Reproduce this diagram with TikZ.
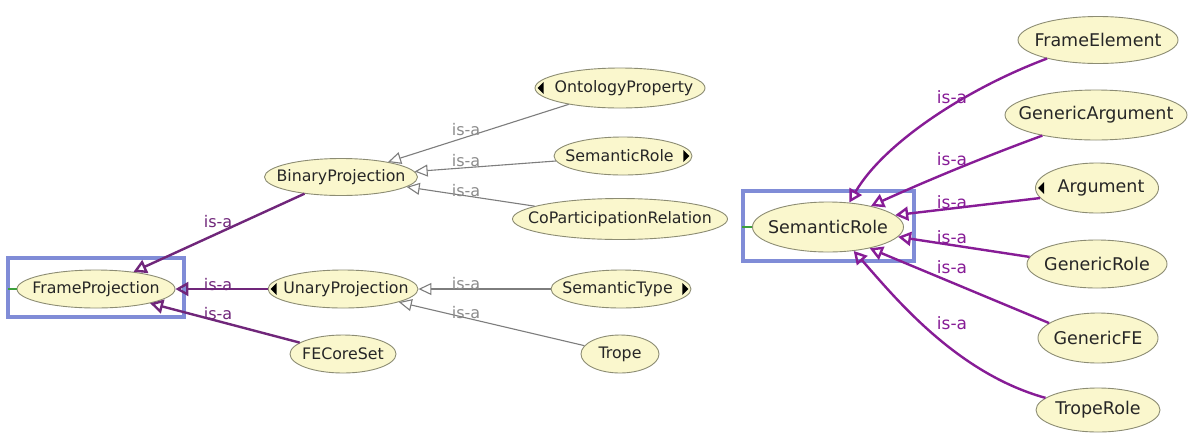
\documentclass[tikz,border=0pt]{standalone}
\usepackage{fontspec}
\setmainfont{DejaVu Sans}
\usetikzlibrary{arrows.meta,shapes.geometric}
\definecolor{nodefill}{RGB}{250,247,205}
\definecolor{nodeline}{RGB}{140,140,115}
\definecolor{purpL}{RGB}{112,38,122}
\definecolor{purpR}{RGB}{135,28,150}
\definecolor{grayedge}{RGB}{125,125,125}
\definecolor{graylabel}{RGB}{140,140,140}
\definecolor{selblue}{RGB}{128,140,215}
\definecolor{selgreen}{RGB}{60,160,60}
\newcommand{\nm}[1]{\makebox[0pt]{#1}}
\begin{document}
\begin{tikzpicture}[x=1pt,y=-1pt,
  cls/.style={ellipse, draw=nodeline, fill=nodefill, line width=0.9pt, inner sep=0pt,
    font=\fontsize{15.8}{19}\selectfont, text=black!85},
  clsR/.style={cls, font=\fontsize{17.5}{20}\selectfont},
  isagray/.style={draw=grayedge, line width=1.1pt, -{Triangle[open,length=13pt,width=12pt]}},
  isapL/.style={draw=purpL, line width=2.4pt, -{Triangle[open,length=13pt,width=14pt]}},
  isapR/.style={draw=purpR, line width=2.4pt, -{Triangle[open,length=13pt,width=14pt]}},
  lblG/.style={text=graylabel, font=\fontsize{16}{19}\selectfont, inner sep=0pt},
  lblL/.style={text=purpL, font=\fontsize{16}{19}\selectfont, inner sep=0pt},
  lblR/.style={text=purpR, font=\fontsize{17}{20}\selectfont, inner sep=0pt},
  indic/.style={fill=black},
  selbox/.style={draw=selblue, line width=3.5pt},
  selmark/.style={draw=selgreen, line width=1.2pt}
]
\useasboundingbox (0,0) rectangle (1188,432);
\fill[white] (0,0) rectangle (1188,432);

% selection boxes
\draw[selbox] (8,258) rectangle (184,317);
\draw[selbox] (743,191) rectangle (914,261);

% left graph nodes
\node[cls, minimum width=158pt, minimum height=38pt] (fp) at (96,289) {\nm{FrameProjection}};
\node[cls, minimum width=153pt, minimum height=37pt] (bp) at (341,177) {\nm{BinaryProjection}};
\node[cls, minimum width=170pt, minimum height=40pt] (op) at (620,88) {\nm{\hspace{8pt}OntologyProperty}};
\node[cls, minimum width=138pt, minimum height=38pt] (sr1) at (623,156) {\nm{SemanticRole\hspace{7pt}}};
\node[cls, minimum width=215pt, minimum height=41pt] (cpr) at (620,219) {\nm{CoParticipationRelation}};
\node[cls, minimum width=150pt, minimum height=38pt] (up) at (343,289) {\nm{\hspace{6pt}UnaryProjection}};
\node[cls, minimum width=140pt, minimum height=38pt] (st) at (621,289) {\nm{SemanticType\hspace{7pt}}};
\node[cls, minimum width=106pt, minimum height=38pt] (fcs) at (343,354) {\nm{FECoreSet}};
\node[cls, minimum width=78pt, minimum height=38pt] (trope) at (620,354) {\nm{Trope}};

% right graph nodes
\node[clsR, minimum width=160pt, minimum height=47pt] (fe) at (1098,40) {\nm{FrameElement}};
\node[clsR, minimum width=182pt, minimum height=50pt] (ga) at (1096,115) {\nm{GenericArgument}};
\node[clsR, minimum width=123pt, minimum height=50pt] (arg) at (1097,188) {\nm{\hspace{8pt}Argument}};
\node[clsR, minimum width=151pt, minimum height=50pt] (sr2) at (828,227) {\nm{SemanticRole}};
\node[clsR, minimum width=140pt, minimum height=48pt] (gr) at (1097,264) {\nm{GenericRole}};
\node[clsR, minimum width=120pt, minimum height=50pt] (gfe) at (1098,338) {\nm{GenericFE}};
\node[clsR, minimum width=124pt, minimum height=44pt] (tr) at (1098,410) {\nm{TropeRole}};

% expansion indicators
\fill[indic] (op.west) ++(3,0) -- ++(6,-6) -- ++(0,12) -- cycle;
\fill[indic] (up.west) ++(3,0) -- ++(6,-6) -- ++(0,12) -- cycle;
\fill[indic] (arg.west) ++(3,0) -- ++(6,-6) -- ++(0,12) -- cycle;
\fill[indic] (sr1.east) ++(-3,0) -- ++(-6,-6) -- ++(0,12) -- cycle;
\fill[indic] (st.east) ++(-3,0) -- ++(-6,-6) -- ++(0,12) -- cycle;

% selection markers
\draw[selmark] (fp.west) -- ++(-9,0);
\draw[selmark] (sr2.west) -- ++(-10,0);

% left edges
\draw[isapL] (bp) -- (fp);
\draw[isapL] (up.west) -- (fp.east);
\draw[isapL] (fcs) -- (fp);
\draw[isagray] (op) -- (bp);
\draw[isagray] (sr1) -- (bp);
\draw[isagray] (cpr) -- (bp);
\draw[isagray] (st) -- (up);
\draw[isagray] (trope) -- (up);

% right edges
\draw[isapR] (fe.200) .. controls +(-80,30) and +(35,-60) .. (sr2.49);
\draw[isapR] (ga.201) .. controls +(-60,22) and +(55,-25) .. (sr2.26);
\draw[isapR] (arg.190) -- (sr2.10);
\draw[isapR] (gr.174) -- (sr2.-8);
\draw[isapR] (gfe.163) -- (sr2.-27);
\draw[isapR] (tr.167) .. controls +(-90,-25) and +(40,45) .. (sr2.-43);

% labels
\node[lblL] (l1) at (218,222) {is-a};
\node[lblL] (l2) at (218,285) {is-a};
\node[lblL] (l3) at (218,314) {is-a};
\node[lblG] (g1) at (466,130) {is-a};
\node[lblG] (g2) at (466,161) {is-a};
\node[lblG] (g3) at (466,191) {is-a};
\node[lblG] (g4) at (466,284) {is-a};
\node[lblG] (g5) at (466,313) {is-a};
\node[lblR] (r1) at (952,97) {is-a};
\node[lblR] (r2) at (952,159) {is-a};
\node[lblR] (r3) at (952,202) {is-a};
\node[lblR] (r4) at (952,237) {is-a};
\node[lblR] (r5) at (952,267) {is-a};
\node[lblR] (r6) at (952,323) {is-a};
\end{tikzpicture}
\end{document}
